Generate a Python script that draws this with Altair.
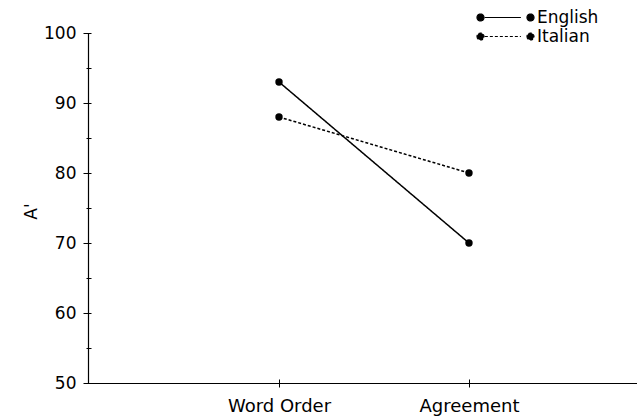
import altair as alt
import pandas as pd

# Mean A' by condition and language
conditions = ["Word Order", "Agreement"]
languages = ["English", "Italian"]
english = [93, 70]
italian = [88, 80]

rows = []
for lang, vals in zip(languages, [english, italian]):
    for cond, v in zip(conditions, vals):
        rows.append({"language": lang, "condition": cond, "score": v})
df = pd.DataFrame(rows)

FONT = "DejaVu Sans"

# legend glyph: dot, line, dot
legend_symbol = (
    "M-8.14,0 a1,1 0 1,0 2,0 a1,1 0 1,0 -2,0 Z "
    "M6.14,0 a1,1 0 1,0 2,0 a1,1 0 1,0 -2,0 Z "
    "M-5.9,0 L4.4,0"
)

x_scale = alt.Scale(type="point", domain=conditions, padding=0.945, align=0.532)
y_scale = alt.Scale(domain=[50, 100], nice=False, zero=False)

base = alt.Chart(df)

lines = base.mark_line(color="black", strokeWidth=1.5).encode(
    x=alt.X("condition:N", scale=x_scale, sort=conditions,
            axis=alt.Axis(title=None, orient="bottom", ticks=False, tickSize=0,
                          labelPadding=14, labelFontSize=18, labelFont=FONT,
                          labelColor="black", labelAngle=0,
                          domainColor="black", domainWidth=1.2)),
    y=alt.Y("score:Q", scale=y_scale,
            axis=alt.Axis(title="A'", orient="left", values=[50, 60, 70, 80, 90, 100],
                          ticks=False, tickSize=0, grid=False,
                          labelPadding=12, labelFontSize=17, labelFont=FONT,
                          labelColor="black", domainColor="black", domainWidth=1.2,
                          titleFont=FONT, titleFontSize=17, titleFontWeight="normal",
                          titleColor="black", titleX=-48, titleY=178)),
    strokeDash=alt.StrokeDash(
        "language:N",
        scale=alt.Scale(domain=languages, range=[[1, 0], [3, 2]]),
        legend=alt.Legend(
            title=None, orient="none", legendX=387, legendY=-24,
            symbolType=legend_symbol, symbolSize=49, symbolOffset=22,
            symbolFillColor="black", symbolStrokeColor="black",
            symbolStrokeWidth=1.2, labelOffset=23, labelFontSize=17,
            labelFont=FONT, labelColor="black", rowPadding=1, padding=0,
        ),
    ),
    detail="language:N",
)

points = base.mark_point(filled=True, color="black", opacity=1, size=55).encode(
    x=alt.X("condition:N", scale=x_scale, sort=conditions,
            axis=alt.Axis(title=None, orient="bottom", labels=False, domain=False,
                          ticks=True, tickSize=8, tickColor="black", offset=-4)),
    y=alt.Y("score:Q", scale=y_scale,
            axis=alt.Axis(title=None, orient="left", labels=False, domain=False,
                          grid=False, values=[50, 55, 60, 65, 70, 75, 80, 85, 90, 95, 100],
                          ticks=True, tickColor="black", offset=-3,
                          tickSize={"condition": {"test": "datum.value % 10 === 0", "value": 8},
                                    "value": 5})),
)

chart = (
    alt.layer(lines, points)
    .resolve_axis(x="independent", y="independent")
    .properties(
        width=549, height=350,
        padding={"left": 88, "top": 33, "right": 0, "bottom": 33},
        autosize=alt.AutoSizeParams(type="none"),
        background="white",
    )
    .configure_view(stroke=None)
)

chart.save("out.html", embed_options={"renderer": "svg", "actions": False})
